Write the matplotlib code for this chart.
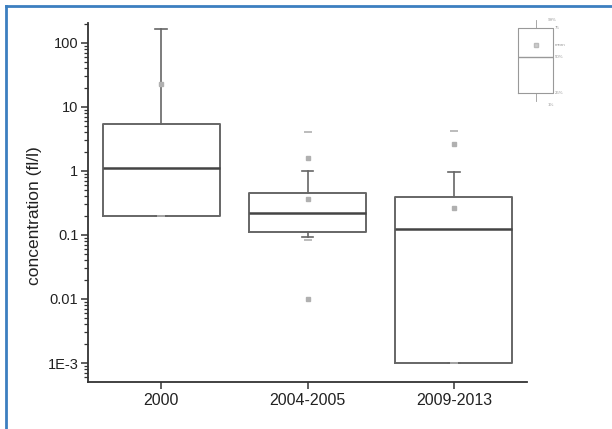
import matplotlib.pyplot as plt
import matplotlib.ticker as mticker
from matplotlib.lines import Line2D

plt.rcParams['font.family'] = ['Liberation Sans', 'DejaVu Sans']

# box statistics (concentration, fl/l)
groups = ["2000", "2004-2005", "2009-2013"]
q1 = [0.2, 0.11, 0.001]
medians = [1.1, 0.22, 0.124]
q3 = [5.5, 0.45, 0.39]
whisker_lo = [0.2, 0.093, 0.001]
whisker_hi = [165, 1.0, 0.97]
means = [23, 0.36, 0.26]

# extra percentile / min-max marks
dash_points = [[0.2], [4.1, 0.085], [4.2, 0.001]]
square_points = [[], [1.6, 0.01], [2.6]]

yticks = [1e-3, 0.01, 0.1, 1, 10, 100]
ytick_labels = ["1E-3", "0.01", "0.1", "1", "10", "100"]

box_color = "#666666"
point_color = "#b0b0b0"


def makeStats():
    stats = []
    for i, name in enumerate(groups):
        stats.append({
            "label": name,
            "q1": q1[i], "med": medians[i], "q3": q3[i],
            "whislo": whisker_lo[i], "whishi": whisker_hi[i],
            "mean": means[i], "fliers": [],
        })
    return stats


def drawMain(fig):
    ax = fig.add_axes([88 / 612, 1 - 382 / 429, (527 - 88) / 612, (382 - 23) / 429])
    ax.bxp(makeStats(), positions=[1, 2, 3], widths=0.8, capwidths=0.08,
           showmeans=False, showfliers=False,
           boxprops=dict(color=box_color, linewidth=1.4),
           whiskerprops=dict(color=box_color, linewidth=1.2),
           capprops=dict(color=box_color, linewidth=1.2),
           medianprops=dict(color="#444444", linewidth=1.8))

    for i in range(len(groups)):
        ax.plot([i + 1], [means[i]], "s", ms=3.5, color=point_color, mec=point_color)
        for v in dash_points[i]:
            ax.plot([i + 1], [v], "_", ms=6, mew=1.2, color=point_color)
        for v in square_points[i]:
            ax.plot([i + 1], [v], "s", ms=3.5, color=point_color, mec=point_color)

    ax.set_yscale("log")
    ax.set_ylim(5.05e-4, 205)
    ax.set_xlim(0.5, 3.5)
    ax.set_yticks(yticks)
    ax.set_yticklabels(ytick_labels)
    ax.yaxis.set_minor_locator(mticker.LogLocator(base=10, subs=range(2, 10), numticks=20))
    ax.yaxis.set_minor_formatter(mticker.NullFormatter())
    ax.set_xticks([1, 2, 3])
    ax.set_xticklabels(groups)

    for side in ["top", "right"]:
        ax.spines[side].set_visible(False)
    for side in ["left", "bottom"]:
        ax.spines[side].set_color("#333333")
        ax.spines[side].set_linewidth(1.3)
    ax.tick_params(axis="y", which="major", direction="out", length=5, width=1.1,
                   color="#333333", labelsize=10.5, labelcolor="#222222", pad=2)
    ax.tick_params(axis="y", which="minor", direction="out", length=3, width=0.9, color="#333333")
    ax.tick_params(axis="x", direction="out", length=5, width=1.1, color="#333333",
                   labelsize=11.5, labelcolor="#222222", pad=3)
    return ax


def drawKey(fig):
    # small legend box in the top right corner
    kax = fig.add_axes([505.5 / 612, 1 - 110 / 429, 60 / 612, 95 / 429])
    key = [{"q1": 17, "med": 53, "q3": 82, "whislo": 9, "whishi": 90, "fliers": []}]
    kax.bxp(key, positions=[1], widths=0.58, capwidths=0.0, showfliers=False,
            boxprops=dict(color="#999999", linewidth=0.8),
            whiskerprops=dict(color="#999999", linewidth=0.6),
            capprops=dict(color="#999999", linewidth=0.6),
            medianprops=dict(color="#999999", linewidth=1.0))
    kax.plot([1], [65], "s", ms=2.5, color="#cccccc", mec="#bbbbbb")
    kax.set_xlim(0.5, 1.5)
    kax.set_ylim(0, 95)
    kax.axis("off")
    labels = [(1.2, 90, "99%"), (1.32, 82, "75"), (1.32, 65, "mean"),
              (1.32, 53, "50%"), (1.32, 17, "25%"), (1.2, 5, "1%")]
    for x, y, t in labels:
        kax.text(x, y, t, fontsize=3.2, color="#999999", va="center", ha="left")


def main():
    fig = plt.figure(figsize=(6.12, 4.29), dpi=100)
    fig.patch.set_facecolor("white")
    drawMain(fig)
    drawKey(fig)
    fig.text(35 / 612, 1 - 216 / 429, "concentration (fl/l)", rotation=90,
             ha="center", va="center", fontsize=12.5, color="#222222")

    # blue frame on the top and left edge
    fig.add_artist(Line2D([5.5 / 612, 1], [1 - 5.5 / 429, 1 - 5.5 / 429], color="#3c7fc0",
                          linewidth=2, transform=fig.transFigure))
    fig.add_artist(Line2D([5.5 / 612, 5.5 / 612], [0, 1 - 5.5 / 429], color="#3c7fc0",
                          linewidth=2, transform=fig.transFigure))
    fig.savefig("out.png", dpi=100)


if __name__ == "__main__":
    main()
